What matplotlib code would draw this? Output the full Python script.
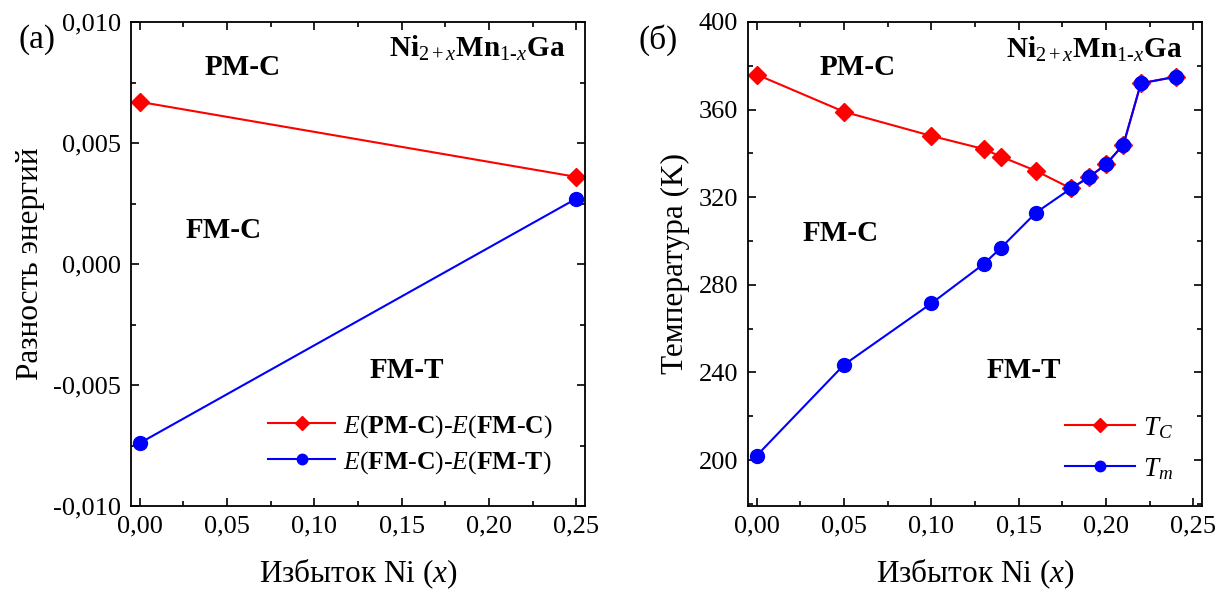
import matplotlib
matplotlib.use("Agg")
import matplotlib.pyplot as plt
from matplotlib.ticker import FuncFormatter, MultipleLocator

plt.rcParams['font.family'] = ['Liberation Serif', 'DejaVu Serif']
plt.rcParams['mathtext.fontset'] = 'custom'
plt.rcParams['mathtext.rm'] = 'Liberation Serif'
plt.rcParams['mathtext.it'] = 'Liberation Serif:italic'
plt.rcParams['mathtext.bf'] = 'Liberation Serif:bold'
plt.rcParams['mathtext.bfit'] = 'Liberation Serif:bold:italic'

# ---- data: panel (a)
x_a = [0.0, 0.25]
e_pm_fm = [0.0067, 0.0036]
e_fmc_fmt = [-0.0074, 0.0027]

# ---- data: panel (б)
x_tc = [0.0, 0.05, 0.10, 0.13, 0.14, 0.16, 0.18, 0.19, 0.20, 0.21, 0.22, 0.24]
tc = [376, 359, 348, 342, 338.5, 332, 324, 329, 335, 344, 372, 375]
x_tm = [0.0, 0.05, 0.10, 0.13, 0.14, 0.16, 0.18, 0.19, 0.20, 0.21, 0.22, 0.24]
tm = [202, 243.5, 271.5, 289.5, 297, 313, 324, 329, 335, 344, 372, 375]

xticks = [0.0, 0.05, 0.10, 0.15, 0.20, 0.25]
yticks_a = [-0.010, -0.005, 0.0, 0.005, 0.010]
yticks_b = [200, 240, 280, 320, 360, 400]

RED = '#ff0000'
BLUE = '#0000ff'
TICK_FS = 19
LABEL_FS = 22.5
ANN_FS = 21
LEG_FS = 18.5
HY = '\u2010'
FORMULA = r'$\mathbf{Ni}_{2+x}\mathbf{Mn}_{1' + HY + r'x}\mathbf{Ga}$'

fig = plt.figure(figsize=(12.3, 5.94), dpi=100)
ax1 = fig.add_axes([131/1230, 1-506/594, 454/1230, 484/594])
ax2 = fig.add_axes([748/1230, 1-506/594, 454/1230, 484/594])

def style(ax):
    ax.tick_params(which='both', direction='in', top=True, right=True,
                   labelsize=TICK_FS, width=1.2)
    ax.tick_params(which='major', length=6, pad=7)
    ax.tick_params(which='minor', length=3.5)
    for s in ax.spines.values():
        s.set_linewidth(1.3)
    ax.set_xticks(xticks)
    ax.xaxis.set_minor_locator(MultipleLocator(0.025))
    ax.xaxis.set_major_formatter(FuncFormatter(lambda v, p: f"{v:.2f}".replace('.', ',')))
    ax.set_xlim(-0.005, 0.255)
    ax.set_xlabel(r'Избыток Ni ($x$)', fontsize=LABEL_FS, labelpad=14)

def fmt_a(v, p):
    if abs(v) < 1e-12:
        return "0,000"
    return f"{v:.3f}".replace('.', ',')

# panel (a)
ax1.plot(x_a, e_pm_fm, color=RED, marker='D', ms=9, lw=1.5,
         label=r'$E$($\mathbf{PM}$' + HY + r'$\mathbf{C}$)-$E$($\mathbf{FM}$' + HY + r'$\mathbf{C}$)')
ax1.plot(x_a, e_fmc_fmt, color=BLUE, marker='o', ms=10, lw=1.5,
         label=r'$E$($\mathbf{FM}$' + HY + r'$\mathbf{C}$)-$E$($\mathbf{FM}$' + HY + r'$\mathbf{T}$)')
style(ax1)
ax1.set_ylim(-0.010, 0.010)
ax1.set_yticks(yticks_a)
ax1.yaxis.set_minor_locator(MultipleLocator(0.0025))
ax1.yaxis.set_major_formatter(FuncFormatter(fmt_a))
ax1.set_ylabel('Разность энергий', fontsize=LABEL_FS, labelpad=6)
ax1.legend(loc='lower right', bbox_to_anchor=(0.98, 0.015), frameon=False,
           fontsize=LEG_FS, handlelength=2.6, handletextpad=0.3, labelspacing=0.35,
           markerscale=0.75)
ax1.text(0.059, 0.0081, 'PM-C', fontsize=ANN_FS, fontweight='bold', ha='center', va='center')
ax1.text(0.048, 0.00137, 'FM-C', fontsize=ANN_FS, fontweight='bold', ha='center', va='center')
ax1.text(0.153, -0.0044, 'FM-T', fontsize=ANN_FS, fontweight='bold', ha='center', va='center')
ax1.text(0.193, 0.0089, FORMULA, fontsize=ANN_FS, ha='center', va='center')
fig.text(18/1230, 1-40/594, '(a)', fontsize=24, va='center', ha='left')

# panel (б)
ax2.plot(x_tc, tc, color=RED, marker='D', ms=9, lw=1.5, label=r'$T_C$')
ax2.plot(x_tm, tm, color=BLUE, marker='o', ms=10, lw=1.5, label=r'$T_m$')
style(ax2)
ax2.set_ylim(179, 400)
ax2.set_yticks(yticks_b)
ax2.yaxis.set_minor_locator(MultipleLocator(20))
ax2.set_ylabel('Температура (K)', fontsize=LABEL_FS, labelpad=6)
ax2.legend(loc='lower right', bbox_to_anchor=(0.99, 0.0), frameon=False,
           fontsize=LEG_FS + 1, handlelength=2.6, handletextpad=0.3, labelspacing=0.55,
           markerscale=0.75)
ax2.text(0.058, 379, 'PM-C', fontsize=ANN_FS, fontweight='bold', ha='center', va='center')
ax2.text(0.048, 303.5, 'FM-C', fontsize=ANN_FS, fontweight='bold', ha='center', va='center')
ax2.text(0.153, 241, 'FM-T', fontsize=ANN_FS, fontweight='bold', ha='center', va='center')
ax2.text(0.1935, 387.5, FORMULA, fontsize=ANN_FS, ha='center', va='center')
fig.text(638/1230, 1-40/594, '(б)', fontsize=24, va='center', ha='left')

fig.savefig('out.png', dpi=100)
